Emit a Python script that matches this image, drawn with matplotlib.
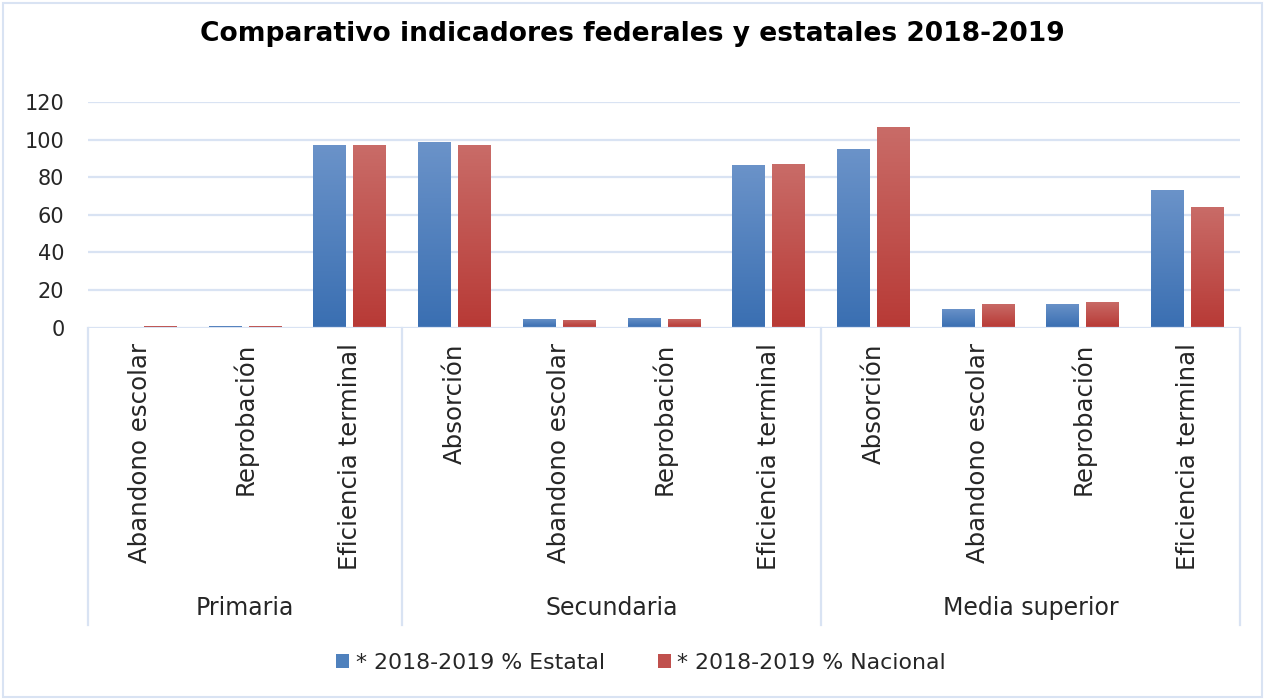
import matplotlib
matplotlib.use("Agg")
import matplotlib.pyplot as plt
import numpy as np
from matplotlib.transforms import blended_transform_factory
from matplotlib.patches import Rectangle
from matplotlib.colors import LinearSegmentedColormap

groups = ["Primaria", "Secundaria", "Media superior"]
group_sizes = [3, 4, 4]
categories = ["Abandono escolar", "Reprobación", "Eficiencia terminal",
              "Absorción", "Abandono escolar", "Reprobación", "Eficiencia terminal",
              "Absorción", "Abandono escolar", "Reprobación", "Eficiencia terminal"]
estatal = [0.0, 1.0, 97.2, 98.8, 4.6, 5.2, 86.5, 95.0, 9.8, 12.4, 73.2]
nacional = [0.6, 0.6, 97.2, 97.2, 4.0, 4.6, 87.0, 106.8, 12.4, 13.5, 64.1]
series_names = ["* 2018-2019 % Estatal", "* 2018-2019 % Nacional"]
yticks = [0, 20, 40, 60, 80, 100, 120]

FONT = "DejaVu Sans"
plt.rcParams['font.family'] = [FONT]

W, H = 1265, 700
fig = plt.figure(figsize=(W / 100, H / 100), dpi=100)
ax = fig.add_axes([88 / W, 1 - 327.5 / H, (1240 - 88) / W, (327.5 - 102) / H])

n = len(categories)
x = np.arange(n)
bw = 0.315
off = 0.191

blue_cmap = LinearSegmentedColormap.from_list("b", ["#3a6fb2", "#6b93c9"])
red_cmap = LinearSegmentedColormap.from_list("r", ["#b83a36", "#c96c68"])

b1 = ax.bar(x - off, estatal, bw, color="#4f81bd", zorder=3, label=series_names[0])
b2 = ax.bar(x + off, nacional, bw, color="#c0504d", zorder=3, label=series_names[1])

grad = np.linspace(0, 1, 256).reshape(-1, 1)
for bars, cmap in ((b1, blue_cmap), (b2, red_cmap)):
    for p in bars:
        h = p.get_height()
        if h <= 0:
            continue
        x0 = p.get_x()
        im = ax.imshow(grad, extent=[x0, x0 + p.get_width(), 0, h], origin="lower",
                       cmap=cmap, aspect="auto", zorder=3.5, interpolation="bilinear")
        im.set_clip_path(p)

ax.set_xlim(-0.5, n - 0.5)
ax.set_ylim(0, 120)
ax.set_yticks(yticks)
ax.set_yticklabels([str(v) for v in yticks], fontsize=15, color="#262626")
ax.tick_params(axis="y", length=0, pad=17)
ax.set_xticks([])
for s in ax.spines.values():
    s.set_visible(False)
grid_c = "#d9e3f3"
for v in yticks[1:]:
    ax.axhline(v, color=grid_c, lw=1.6, zorder=1)
ax.axhline(0, color=grid_c, lw=1.6, zorder=4)

# multi-level category axis
tr = blended_transform_factory(ax.transData, fig.transFigure)
for i, c in enumerate(categories):
    ax.text(i, 1 - 343 / H, c, rotation=90, ha="center", va="top",
            fontsize=17.6, color="#262626", transform=tr)
bounds = np.concatenate([[0], np.cumsum(group_sizes)]) - 0.5
for b in bounds:
    ax.plot([b, b], [1 - 327.5 / H, 1 - 625 / H], color=grid_c, lw=1.6,
            transform=tr, clip_on=False)
for g, s, e in zip(groups, bounds[:-1], bounds[1:]):
    ax.text((s + e) / 2, 1 - 608 / H, g, ha="center", va="center",
            fontsize=17, color="#262626", transform=tr)

fig.text(0.5, 1 - 34 / H, "Comparativo indicadores federales y estatales 2018-2019",
         ha="center", va="center", fontsize=19.1, fontweight="bold", color="black")

leg = fig.legend(handles=[b1, b2], labels=series_names, loc="center",
                 bbox_to_anchor=(641 / W, 1 - 663 / H), ncol=2, frameon=False,
                 fontsize=15.8, handlelength=0.6, handleheight=0.6,
                 handletextpad=0.3, columnspacing=2.4)
for t in leg.get_texts():
    t.set_color("#262626")

fig.patches.append(Rectangle((3 / W, 3 / H), 1 - 6 / W, 1 - 6 / H, transform=fig.transFigure,
                             fill=False, edgecolor=grid_c, lw=1.5))

fig.savefig("out.png", dpi=100)
